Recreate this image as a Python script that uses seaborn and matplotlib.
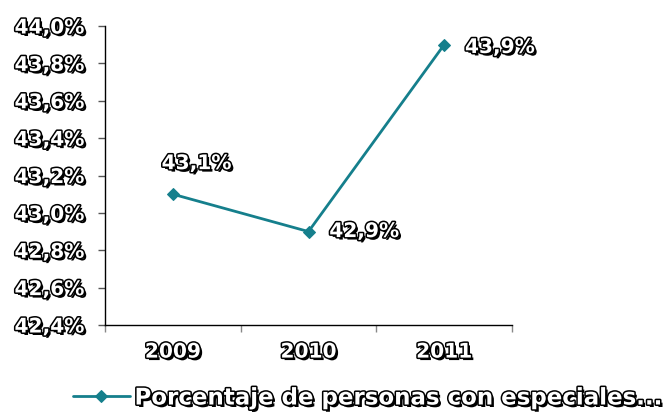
import matplotlib
matplotlib.use("Agg")
import matplotlib.pyplot as plt
import matplotlib.patheffects as pe
import pandas as pd
import seaborn as sns

years = ["2009", "2010", "2011"]
values = [43.1, 42.9, 43.9]
value_labels = ["43,1%", "42,9%", "43,9%"]
series_name = "Porcentaje de personas con especiales..."
y_ticks = [42.4, 42.6, 42.8, 43.0, 43.2, 43.4, 43.6, 43.8, 44.0]
y_tick_labels = ["42,4%", "42,6%", "42,8%", "43,0%", "43,2%", "43,4%", "43,6%", "43,8%", "44,0%"]

line_color = "#157F8C"

sns.set_theme(style="white")
plt.rcParams["font.family"] = ["DejaVu Sans"]

# white lettering with black outline and a drop shadow
emboss = [
    pe.SimplePatchShadow(offset=(1.8, -1.8), shadow_rgbFace="black", alpha=1.0),
    pe.Stroke(linewidth=2.2, foreground="black"),
    pe.Normal(),
]
text_kw = dict(color="white", fontweight="bold", fontsize=14.5, path_effects=emboss)

df = pd.DataFrame({"year": years, "value": values})
df["pos"] = range(len(years))

fig = plt.figure(figsize=(6.69, 4.12), dpi=100)
ax = fig.add_axes([105 / 669, 1 - 325 / 412, (512 - 105) / 669, (325 - 26) / 412])

sns.lineplot(data=df, x="pos", y="value", ax=ax, color=line_color, linewidth=2,
             marker="D", markersize=6, markeredgecolor=line_color,
             label=series_name, legend=False)

ax.set_xlim(-0.5, len(years) - 0.5)
ax.set_ylim(y_ticks[0], y_ticks[-1])
ax.set_yticks(y_ticks)
ax.set_yticklabels(y_tick_labels)
ax.set_xticks([i - 0.5 for i in range(len(years) + 1)])
ax.set_xticklabels([])
ax.set_xlabel("")
ax.set_ylabel("")

for s in ["top", "right"]:
    ax.spines[s].set_visible(False)
for s in ["left", "bottom"]:
    ax.spines[s].set_color("black")
    ax.spines[s].set_linewidth(1.0)

ax.tick_params(axis="y", direction="out", length=5, width=1, color="#555555", left=True, pad=10)
ax.tick_params(axis="x", direction="out", length=5, width=1, color="#888888", bottom=True)
for lbl in ax.get_yticklabels():
    lbl.set_color("white")
    lbl.set_fontweight("bold")
    lbl.set_fontsize(14.5)
    lbl.set_path_effects(emboss)

# category names centred between the tick marks
for i, yr in enumerate(years):
    ax.annotate(yr, xy=(i, y_ticks[0]), xytext=(0, -19.5), textcoords="offset points",
                ha="center", va="center", annotation_clip=False, **text_kw)

# value labels
offsets = [(17, 22), (40, 0), (40, -2)]
for i, (v, t) in enumerate(zip(values, value_labels)):
    ax.annotate(t, xy=(i, v), xytext=offsets[i], textcoords="offset points",
                ha="center", va="center", **text_kw)

leg = ax.legend(handles=ax.get_lines()[:1], labels=[series_name],
                loc="center left", bbox_to_anchor=(52 / 669, 1 - 398 / 412),
                bbox_transform=fig.transFigure, frameon=False,
                handlelength=2.5, handletextpad=0.2, fontsize=16.5)
for t in leg.get_texts():
    t.set_color("white")
    t.set_fontweight("bold")
    t.set_path_effects(emboss)

fig.savefig("out.png", dpi=100)
